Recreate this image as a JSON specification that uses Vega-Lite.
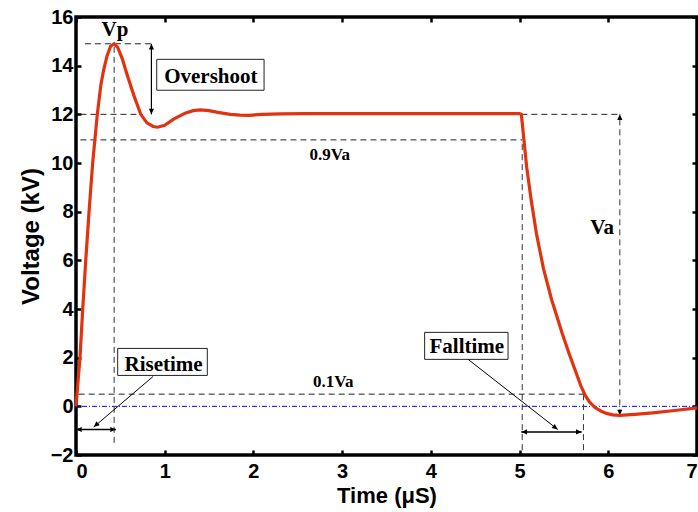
{
  "$schema": "https://vega.github.io/schema/vega-lite/v6.json",
  "width": 621,
  "height": 438,
  "autosize": "none",
  "padding": {"left": 76, "top": 17, "right": 1, "bottom": 57},
  "background": "white",
  "config": {
    "view": {"stroke": "black", "strokeWidth": 3.5},
    "axis": {
      "grid": false,
      "domain": false,
      "tickColor": "black",
      "tickWidth": 2.5,
      "tickSize": -5,
      "labelFont": "Liberation Sans",
      "labelFontWeight": "bold",
      "labelFontSize": 20,
      "labelColor": "black",
      "titleFont": "Liberation Sans",
      "titleFontWeight": "bold",
      "titleFontSize": 22,
      "titleColor": "black"
    }
  },
  "datasets": {
    "curve": [
      {"t": 0, "v": 0}, {"t": 0.02, "v": 0.9}, {"t": 0.045, "v": 2.0}, {"t": 0.075, "v": 3.95},
      {"t": 0.11, "v": 6.0}, {"t": 0.147, "v": 8.0}, {"t": 0.188, "v": 10.0}, {"t": 0.24, "v": 12.0},
      {"t": 0.28, "v": 13.2}, {"t": 0.31, "v": 13.8}, {"t": 0.35, "v": 14.4}, {"t": 0.39, "v": 14.8},
      {"t": 0.43, "v": 14.9}, {"t": 0.47, "v": 14.75}, {"t": 0.52, "v": 14.3}, {"t": 0.57, "v": 13.7},
      {"t": 0.65, "v": 12.8}, {"t": 0.73, "v": 12.0}, {"t": 0.8, "v": 11.65}, {"t": 0.87, "v": 11.5},
      {"t": 0.92, "v": 11.47}, {"t": 1.0, "v": 11.55}, {"t": 1.1, "v": 11.8}, {"t": 1.23, "v": 12.05},
      {"t": 1.32, "v": 12.15}, {"t": 1.4, "v": 12.18}, {"t": 1.5, "v": 12.15}, {"t": 1.6, "v": 12.08},
      {"t": 1.74, "v": 12.0}, {"t": 1.85, "v": 11.97}, {"t": 1.95, "v": 11.96}, {"t": 2.1, "v": 12.0},
      {"t": 2.3, "v": 12.02}, {"t": 2.6, "v": 12.03}, {"t": 3.0, "v": 12.03}, {"t": 4.0, "v": 12.03},
      {"t": 5.0, "v": 12.03}, {"t": 5.02, "v": 12.0}, {"t": 5.08, "v": 9.84}, {"t": 5.13, "v": 8.5},
      {"t": 5.19, "v": 7.1}, {"t": 5.27, "v": 5.65}, {"t": 5.36, "v": 4.4}, {"t": 5.48, "v": 3.0},
      {"t": 5.56, "v": 2.15}, {"t": 5.63, "v": 1.45}, {"t": 5.69, "v": 0.85}, {"t": 5.74, "v": 0.45},
      {"t": 5.79, "v": 0.17}, {"t": 5.85, "v": -0.05},
      {"t": 5.92, "v": -0.2}, {"t": 5.98, "v": -0.29}, {"t": 6.05, "v": -0.35}, {"t": 6.13, "v": -0.37},
      {"t": 6.3, "v": -0.33}, {"t": 6.5, "v": -0.27}, {"t": 6.75, "v": -0.17}, {"t": 7.0, "v": -0.06}
    ],
    "zero": [{"v": 0}],
    "hguides": [
      {"t1": 0.1, "t2": 0.87, "v": 14.9},
      {"t1": 0.05, "t2": 0.75, "v": 12},
      {"t1": 5.02, "t2": 6.13, "v": 12},
      {"t1": 0.05, "t2": 5.03, "v": 10.95},
      {"t1": 0.03, "t2": 5.72, "v": 0.5}
    ],
    "vguides": [
      {"t": 0.43, "v1": -1.5, "v2": 14.9},
      {"t": 5.03, "v1": -1.8, "v2": 10.95},
      {"t": 5.72, "v1": -1.8, "v2": 0.5},
      {"t": 6.13, "v1": -0.37, "v2": 12}
    ],
    "solidv": [{"t": 0.85, "v1": 12, "v2": 14.9}],
    "solidh": [
      {"t1": 0.0, "t2": 0.45, "v": -0.95},
      {"t1": 5.02, "t2": 5.7, "v": -1.05}
    ],
    "leaders": [
      {"t1": 0.87, "v1": 1.23, "t2": 0.2, "v2": -0.85},
      {"t1": 4.42, "v1": 1.93, "t2": 5.43, "v2": -0.95}
    ],
    "boxes": [
      {"t1": 0.91, "t2": 2.12, "v1": 12.99, "v2": 14.26},
      {"t1": 0.47, "t2": 1.48, "v1": 1.27, "v2": 2.38},
      {"t1": 3.93, "t2": 4.87, "v1": 1.93, "v2": 3.04}
    ],
    "arrowUp": [{"t": 0.85, "v": 14.9}, {"t": 6.13, "v": 12}],
    "arrowDown": [{"t": 0.85, "v": 12}, {"t": 6.13, "v": -0.37}],
    "arrowLeft": [{"t": 0.0, "v": -0.95}, {"t": 5.02, "v": -1.05}],
    "arrowRight": [{"t": 0.45, "v": -0.95}, {"t": 5.7, "v": -1.05}],
    "leadRise": [{"t": 0.2, "v": -0.85}],
    "leadFall": [{"t": 5.43, "v": -0.95}],
    "bigLabels": [
      {"t": 0.44, "v": 15.2, "label": "Vp"},
      {"t": 1.52, "v": 13.28, "label": "Overshoot"},
      {"t": 5.93, "v": 7.07, "label": "Va"},
      {"t": 0.987, "v": 1.44, "label": "Risetime"},
      {"t": 4.405, "v": 2.18, "label": "Falltime"}
    ],
    "smallLabels": [
      {"t": 2.86, "v": 10.11, "label": "0.9Va"},
      {"t": 2.9, "v": 0.78, "label": "0.1Va"}
    ]
  },
  "resolve": {"axis": {"x": "independent", "y": "independent"}},
  "layer": [
    {
      "data": {"name": "zero"},
      "mark": {"type": "rule", "color": "#0000ff", "strokeWidth": 1, "strokeDash": [5, 2, 1, 2]},
      "encoding": {
        "y": {"field": "v", "type": "quantitative", "scale": {"domain": [-2, 16], "nice": false},
              "axis": {"orient": "right", "labels": false, "title": null, "values": [-2,0,2,4,6,8,10,12,14,16]}}
      }
    },
    {
      "data": {"name": "boxes"},
      "mark": {"type": "rect", "fill": "white", "stroke": "#222", "strokeWidth": 1},
      "encoding": {
        "x": {"field": "t1", "type": "quantitative", "scale": {"domain": [0, 7], "nice": false},
              "axis": {"orient": "top", "labels": false, "title": null, "values": [0,1,2,3,4,5,6,7]}},
        "x2": {"field": "t2"},
        "y": {"field": "v1", "type": "quantitative", "axis": null},
        "y2": {"field": "v2"}
      }
    },
    {
      "data": {"name": "hguides"},
      "mark": {"type": "rule", "color": "#222", "strokeWidth": 1, "strokeDash": [6, 4]},
      "encoding": {
        "x": {"field": "t1", "type": "quantitative", "axis": null},
        "x2": {"field": "t2"},
        "y": {"field": "v", "type": "quantitative", "axis": null}
      }
    },
    {
      "data": {"name": "vguides"},
      "mark": {"type": "rule", "color": "#333", "strokeWidth": 1, "strokeDash": [6, 4]},
      "encoding": {
        "x": {"field": "t", "type": "quantitative", "axis": null},
        "y": {"field": "v1", "type": "quantitative", "axis": null},
        "y2": {"field": "v2"}
      }
    },
    {
      "data": {"name": "solidv"},
      "mark": {"type": "rule", "color": "black", "strokeWidth": 1.2},
      "encoding": {
        "x": {"field": "t", "type": "quantitative", "axis": null},
        "y": {"field": "v1", "type": "quantitative", "axis": null},
        "y2": {"field": "v2"}
      }
    },
    {
      "data": {"name": "solidh"},
      "mark": {"type": "rule", "color": "black", "strokeWidth": 1.5},
      "encoding": {
        "x": {"field": "t1", "type": "quantitative", "axis": null},
        "x2": {"field": "t2"},
        "y": {"field": "v", "type": "quantitative", "axis": null}
      }
    },
    {
      "data": {"name": "leaders"},
      "mark": {"type": "rule", "color": "black", "strokeWidth": 1},
      "encoding": {
        "x": {"field": "t1", "type": "quantitative", "axis": null},
        "x2": {"field": "t2"},
        "y": {"field": "v1", "type": "quantitative", "axis": null},
        "y2": {"field": "v2"}
      }
    },
    {
      "data": {"name": "arrowUp"},
      "mark": {"type": "point", "shape": "M-1,-0.45L0,0L-1,0.45Z", "filled": true, "color": "black", "size": 130, "angle": 270, "opacity": 1},
      "encoding": {
        "x": {"field": "t", "type": "quantitative", "axis": null},
        "y": {"field": "v", "type": "quantitative", "axis": null}
      }
    },
    {
      "data": {"name": "arrowDown"},
      "mark": {"type": "point", "shape": "M-1,-0.45L0,0L-1,0.45Z", "filled": true, "color": "black", "size": 130, "angle": 90, "opacity": 1},
      "encoding": {
        "x": {"field": "t", "type": "quantitative", "axis": null},
        "y": {"field": "v", "type": "quantitative", "axis": null}
      }
    },
    {
      "data": {"name": "arrowLeft"},
      "mark": {"type": "point", "shape": "M-1,-0.45L0,0L-1,0.45Z", "filled": true, "color": "black", "size": 130, "angle": 180, "opacity": 1},
      "encoding": {
        "x": {"field": "t", "type": "quantitative", "axis": null},
        "y": {"field": "v", "type": "quantitative", "axis": null}
      }
    },
    {
      "data": {"name": "arrowRight"},
      "mark": {"type": "point", "shape": "M-1,-0.45L0,0L-1,0.45Z", "filled": true, "color": "black", "size": 130, "angle": 0, "opacity": 1},
      "encoding": {
        "x": {"field": "t", "type": "quantitative", "axis": null},
        "y": {"field": "v", "type": "quantitative", "axis": null}
      }
    },
    {
      "data": {"name": "leadRise"},
      "mark": {"type": "point", "shape": "M-1,-0.45L0,0L-1,0.45Z", "filled": true, "color": "black", "size": 130, "angle": 139, "opacity": 1},
      "encoding": {
        "x": {"field": "t", "type": "quantitative", "axis": null},
        "y": {"field": "v", "type": "quantitative", "axis": null}
      }
    },
    {
      "data": {"name": "leadFall"},
      "mark": {"type": "point", "shape": "M-1,-0.45L0,0L-1,0.45Z", "filled": true, "color": "black", "size": 130, "angle": 38, "opacity": 1},
      "encoding": {
        "x": {"field": "t", "type": "quantitative", "axis": null},
        "y": {"field": "v", "type": "quantitative", "axis": null}
      }
    },
    {
      "data": {"name": "curve"},
      "mark": {"type": "line", "color": "#e2330f", "strokeWidth": 3.2},
      "encoding": {
        "x": {"field": "t", "type": "quantitative", "title": "Time (μS)",
              "axis": {"orient": "bottom", "values": [0,1,2,3,4,5,6,7], "labelPadding": 11, "titlePadding": 4}},
        "y": {"field": "v", "type": "quantitative", "title": "Voltage (kV)",
              "axis": {"orient": "left", "values": [-2,0,2,4,6,8,10,12,14,16], "labelPadding": 8, "titlePadding": 7, "titleFontSize": 24}}
      }
    },
    {
      "data": {"name": "bigLabels"},
      "mark": {"type": "text", "font": "Liberation Serif", "fontWeight": "bold", "fontSize": 21, "color": "black", "align": "center", "baseline": "alphabetic"},
      "encoding": {
        "x": {"field": "t", "type": "quantitative", "axis": null},
        "y": {"field": "v", "type": "quantitative", "axis": null},
        "text": {"field": "label"}
      }
    },
    {
      "data": {"name": "smallLabels"},
      "mark": {"type": "text", "font": "Liberation Serif", "fontWeight": "bold", "fontSize": 17, "color": "black", "align": "center", "baseline": "alphabetic"},
      "encoding": {
        "x": {"field": "t", "type": "quantitative", "axis": null},
        "y": {"field": "v", "type": "quantitative", "axis": null},
        "text": {"field": "label"}
      }
    }
  ]
}
